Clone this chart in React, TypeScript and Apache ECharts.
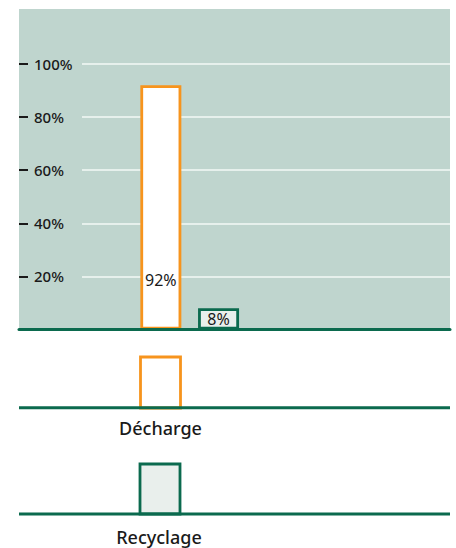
import React, { useEffect, useRef } from "react";
import * as echarts from "echarts";

const categories = ["Décharge", "Recyclage"];
const values = [92, 8];
const yTicks = [20, 40, 60, 80, 100];

const DARK = "#0b6a4e";
const ORANGE = "#f7941d";
const BG = "#bfd5ce";
const FONT = "'Noto Sans', 'Open Sans', sans-serif";
const TEXT = "#1a1a1a";
const WEIGHT = 500;

const fills = ["#ffffff", "#e9efec"];
const strokes = [ORANGE, DARK];

export default function App() {
  const ref = useRef<HTMLDivElement>(null);
  useEffect(() => {
    if (!ref.current) return;
    const chart = echarts.init(ref.current, null, { renderer: "svg" });
    const plotBottom = 329.5;
    const plotTop100 = 64;
    const h100 = plotBottom - plotTop100;
    const bgTop = 9;
    const maxA = ((plotBottom - bgTop) / h100) * 100;

    chart.setOption({
      animation: false,
      grid: [
        {
          left: 19,
          top: bgTop,
          width: 431,
          height: plotBottom - bgTop,
          show: true,
          backgroundColor: BG,
          borderWidth: 0,
          borderColor: "transparent",
        },
        { left: 82, top: plotTop100, width: 368, height: h100 },
        { left: 132, top: plotTop100, width: 115.4, height: h100 },
      ],
      xAxis: [
        {
          type: "value",
          gridIndex: 0,
          min: 0,
          max: 1,
          z: 5,
          axisLine: { show: true, lineStyle: { color: DARK, width: 3 } },
          axisTick: { show: false },
          axisLabel: { show: false },
          splitLine: { show: false },
        },
        { type: "value", gridIndex: 1, min: 0, max: 1, show: false },
        { type: "category", gridIndex: 2, data: categories, show: false },
      ],
      yAxis: [
        {
          type: "value",
          gridIndex: 0,
          min: 0,
          max: maxA,
          axisLine: { show: false },
          axisTick: {
            show: true,
            inside: true,
            length: 9,
            customValues: yTicks,
            lineStyle: { color: TEXT, width: 2 },
          },
          axisLabel: {
            show: true,
            inside: true,
            margin: 15,
            customValues: yTicks,
            formatter: "{value}%",
            fontSize: 15,
            fontWeight: WEIGHT,
            fontFamily: FONT,
            color: TEXT,
          },
          splitLine: { show: false },
        },
        {
          type: "value",
          gridIndex: 1,
          min: 0,
          max: 100,
          interval: 20,
          axisLine: { show: false },
          axisTick: { show: false },
          axisLabel: { show: false },
          splitLine: {
            show: true,
            showMinLine: false,
            lineStyle: { color: "#f3f8f6", width: 1.5 },
          },
        },
        { type: "value", gridIndex: 2, min: 0, max: 100, show: false },
      ],
      series: [
        {
          type: "bar",
          xAxisIndex: 2,
          yAxisIndex: 2,
          barWidth: 41,
          data: values.map((v, i) => ({
            value: v,
            itemStyle: { color: fills[i], borderColor: strokes[i], borderWidth: 2.8 },
            label: {
              show: true,
              position: i === 0 ? "insideBottom" : "inside",
              distance: i === 0 ? 42 : 5,
              formatter: "{c}%",
              fontSize: 16,
              fontWeight: 400,
              fontFamily: FONT,
              color: TEXT,
            },
          })),
        },
      ],
      graphic: [
        {
          type: "rect",
          shape: { x: 140.5, y: 357, width: 40, height: 51 },
          style: { fill: fills[0], stroke: strokes[0], lineWidth: 2.8 },
          z: 1,
        },
        {
          type: "line",
          shape: { x1: 19, y1: 407.7, x2: 450, y2: 407.7 },
          style: { stroke: DARK, lineWidth: 3 },
          z: 2,
        },
        {
          type: "text",
          x: 160.5,
          y: 427.7,
          style: {
            text: categories[0],
            align: "center",
            verticalAlign: "middle",
            fontSize: 18,
            fontWeight: WEIGHT,
            fontFamily: FONT,
            fill: TEXT,
          },
        },
        {
          type: "rect",
          shape: { x: 140, y: 464, width: 40, height: 50 },
          style: { fill: fills[1], stroke: strokes[1], lineWidth: 2.8 },
          z: 1,
        },
        {
          type: "line",
          shape: { x1: 19, y1: 514, x2: 450, y2: 514 },
          style: { stroke: DARK, lineWidth: 3 },
          z: 2,
        },
        {
          type: "text",
          x: 159,
          y: 536.5,
          style: {
            text: categories[1],
            align: "center",
            verticalAlign: "middle",
            fontSize: 18,
            fontWeight: WEIGHT,
            fontFamily: FONT,
            fill: TEXT,
          },
        },
      ],
    });
    return () => chart.dispose();
  }, []);
  return (
    <div
      ref={ref}
      style={{ position: "fixed", left: 0, top: 0, width: 456, height: 548, background: "#ffffff" }}
    />
  );
}
